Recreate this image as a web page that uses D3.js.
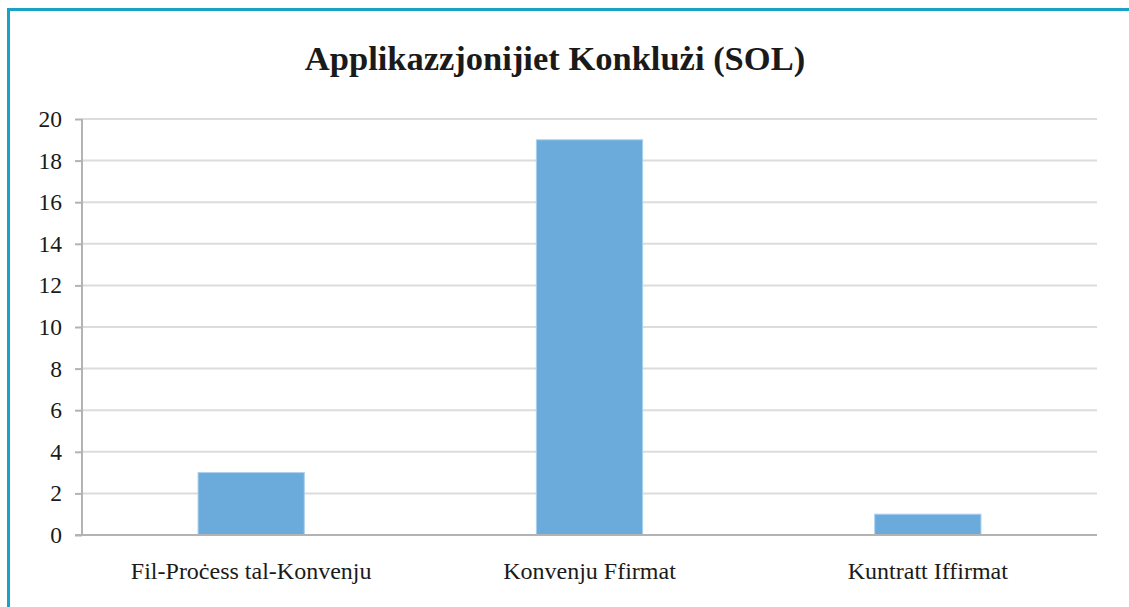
<!DOCTYPE html>
<html lang='mt'>
	<head>
		<meta charset='utf-8'>
		<title>Applikazzjonijiet Konkluzi</title>
		<script type='text/javascript' src='https://cdn.jsdelivr.net/npm/d3@7/dist/d3.min.js'></script>
		<style>
			body { margin: 0; background: #ffffff; }
			text { font-family: 'Liberation Serif', 'Times New Roman', serif; fill: #1a1a1a; }
		</style>
	</head>
	<body>
		<svg id='svg' width='1129' height='607'></svg>
		<script type='text/javascript'>
		{
			var categories = ['Fil-Proċess tal-Konvenju', 'Konvenju Ffirmat', 'Kuntratt Iffirmat'];
			var values = [3, 19, 1];
			var y_ticks = [0, 2, 4, 6, 8, 10, 12, 14, 16, 18, 20];
			var title = 'Applikazzjonijiet Konklużi (SOL)';

			var svg = d3.select('#svg');
			var plot_left = 82, plot_right = 1097, plot_top = 119, plot_bottom = 535;

			// frame line (only top and left visible)
			svg.append('rect')
				.attr('x', 8.5).attr('y', 9.5).attr('width', 1200).attr('height', 700)
				.attr('fill', 'none').attr('stroke', '#17a2c6').attr('stroke-width', 3);

			svg.append('text')
				.attr('x', 555).attr('y', 70)
				.attr('text-anchor', 'middle')
				.style('font-size', '34.5px').style('font-weight', 'bold')
				.text(title);

			var x = d3.scaleBand().domain(categories).range([plot_left, plot_right])
				.paddingInner(0.686).paddingOuter(0.343);
			var y = d3.scaleLinear().domain([0, 20]).range([plot_bottom, plot_top]);

			// gridlines
			svg.append('g').selectAll('line').data(y_ticks.filter(d => d > 0)).enter().append('line')
				.attr('x1', plot_left).attr('x2', plot_right)
				.attr('y1', d => y(d)).attr('y2', d => y(d))
				.attr('stroke', '#dcdcdc').attr('stroke-width', 2);

			// y axis
			var y_axis = svg.append('g').attr('transform', 'translate(' + plot_left + ',0)')
				.call(d3.axisLeft(y).tickValues(y_ticks).tickSize(7).tickPadding(13));
			y_axis.select('.domain').attr('stroke', '#b3b3b3').attr('stroke-width', 2)
				.attr('d', 'M0,' + plot_top + 'V' + plot_bottom);
			y_axis.selectAll('.tick line').attr('stroke', '#b3b3b3').attr('stroke-width', 2);
			y_axis.selectAll('.tick text')
				.style('font-size', '23.5px').attr('fill', '#1a1a1a')
				.attr('font-family', null);

			// bars
			svg.append('g').selectAll('rect').data(values).enter().append('rect')
				.attr('x', (d, i) => x(categories[i]))
				.attr('width', x.bandwidth())
				.attr('y', d => y(d))
				.attr('height', d => plot_bottom - y(d))
				.attr('fill', '#6aabdb').attr('stroke', '#a9cfee').attr('stroke-width', 1);

			// x axis
			var x_axis = svg.append('g').attr('transform', 'translate(0,' + plot_bottom + ')')
				.call(d3.axisBottom(x).tickSize(0).tickPadding(27));
			x_axis.select('.domain').attr('stroke', '#b3b3b3').attr('stroke-width', 2)
				.attr('d', 'M75,0H' + plot_right);
			x_axis.selectAll('.tick text')
				.style('font-size', '24px').attr('fill', '#1a1a1a')
				.attr('font-family', null);
		}
		</script>
	</body>
</html>
